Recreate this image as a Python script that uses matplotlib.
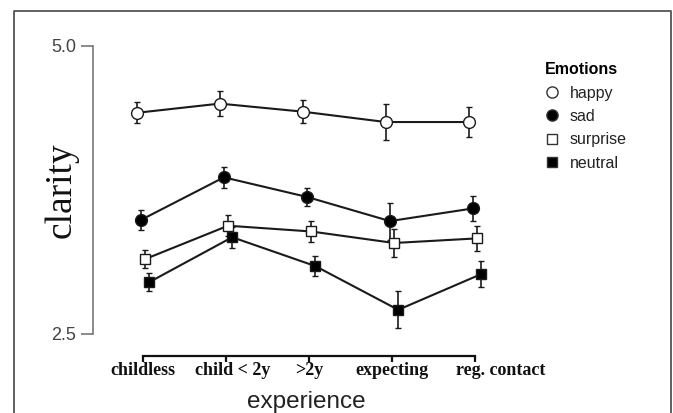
import matplotlib
matplotlib.use('Agg')
import matplotlib.pyplot as plt
import matplotlib.transforms as mtransforms
from matplotlib.lines import Line2D

# data
experience = ['childless', 'child < 2y', '>2y', 'expecting', 'reg. contact']
emotions = ['happy', 'sad', 'surprise', 'neutral']

happy = [4.42, 4.50, 4.43, 4.34, 4.34]
sad = [3.49, 3.86, 3.69, 3.48, 3.59]
surprise = [3.15, 3.44, 3.39, 3.29, 3.33]
neutral = [2.95, 3.34, 3.09, 2.71, 3.02]

happy_err = [0.09, 0.11, 0.10, 0.16, 0.13]
sad_err = [0.09, 0.09, 0.08, 0.16, 0.11]
surprise_err = [0.08, 0.09, 0.09, 0.12, 0.11]
neutral_err = [0.08, 0.09, 0.09, 0.16, 0.11]

means = [happy, sad, surprise, neutral]
errs = [happy_err, sad_err, surprise_err, neutral_err]

# styling
markers = ['o', 'o', 's', 's']
faces = ['white', 'black', 'white', 'black']
msizes = [8.5, 8.5, 7.5, 7.5]
dodge = [-0.075, -0.025, 0.025, 0.075]
label_shift = [0, 7, 0, 0, 26]  # px shift of x tick labels

W, H = 673, 413
fig = plt.figure(figsize=(W / 100, H / 100), dpi=100)

# axes placed in pixels
left_px, right_px = 93, 520
top_px, bot_px = 46, 334
ax = fig.add_axes([left_px / W, (H - bot_px) / H,
                   (right_px - left_px) / W, (bot_px - top_px) / H])

line_col = '#1a1a1a'
for m, e, mk, fc, ms, dx in zip(means, errs, markers, faces, msizes, dodge):
    xs = [i + dx for i in range(len(experience))]
    ax.errorbar(xs, m, yerr=e, color=line_col, lw=1.5, elinewidth=1.2,
                capsize=2, capthick=1.2, marker=mk, ms=ms, mfc=fc,
                mec=line_col, mew=1.0, zorder=3)

ax.set_ylim(2.5, 5.0)
ax.set_xlim(-50 / 83, 4 + 45 / 83)

ax.spines['top'].set_visible(False)
ax.spines['right'].set_visible(False)
ax.spines['left'].set_bounds(2.5, 5.0)
ax.spines['left'].set_color('#777777')
ax.spines['left'].set_linewidth(1.2)
ax.spines['bottom'].set_position(('outward', 16))
ax.spines['bottom'].set_bounds(0, 4)
ax.spines['bottom'].set_linewidth(1.6)
ax.spines['bottom'].set_color('#111111')

ax.set_yticks([2.5, 5.0])
ax.set_yticklabels(['2.5', '5.0'])
ax.tick_params(axis='y', length=9, width=1.2, color='#777777', pad=3,
               labelsize=13, labelcolor='#444444')
for t in ax.get_yticklabels():
    t.set_family('Liberation Sans')

ax.set_xticks(range(len(experience)))
ax.set_xticklabels(experience, family='Liberation Serif', weight='bold',
                   fontsize=13, color='#111111')
ax.tick_params(axis='x', length=4, width=1.6, color='#111111', pad=0)
for t, s in zip(ax.get_xticklabels(), label_shift):
    t.set_transform(t.get_transform() +
                    mtransforms.ScaledTranslation(s / 100, 0, fig.dpi_scale_trans))

ax.set_xlabel('experience', family='Liberation Sans', fontsize=17.5,
              color='#222222')
ax.xaxis.set_label_coords(0.5, -(402 - bot_px) / (bot_px - top_px))
ax.xaxis.label.set_va('center')
ax.set_ylabel('clarity', family='Liberation Serif', fontsize=27,
              color='#111111')
ax.yaxis.set_label_coords((61 - left_px) / (right_px - left_px), 0.5)
ax.yaxis.label.set_va('center')

# legend
handles = [Line2D([], [], ls='none', marker=mk, ms=ms * 0.95, mfc=fc,
                  mec='#333333', mew=1.0)
           for mk, fc, ms in zip(markers, faces, msizes)]
leg = fig.legend(handles, emotions, title='Emotions', frameon=False,
                 loc='upper left', bbox_to_anchor=(538 / W, 1 - 56 / H),
                 prop={'family': 'Liberation Sans', 'size': 11.5},
                 handlelength=1.0, handletextpad=0.6, labelspacing=0.52,
                 borderaxespad=0, alignment='left')
leg.get_title().set_family('Liberation Sans')
leg.get_title().set_weight('bold')
leg.get_title().set_fontsize(11.5)
for t in leg.get_texts():
    t.set_color('#222222')

# frame round the picture (open at the bottom)
bx0, bx1, by0 = 14 / W, 671 / W, 1 - 11 / H
fig.add_artist(Line2D([bx0, bx0, bx1, bx1], [0, by0, by0, 0],
                      transform=fig.transFigure, color='#555555', lw=1.3))

fig.savefig('out.png', dpi=100)
